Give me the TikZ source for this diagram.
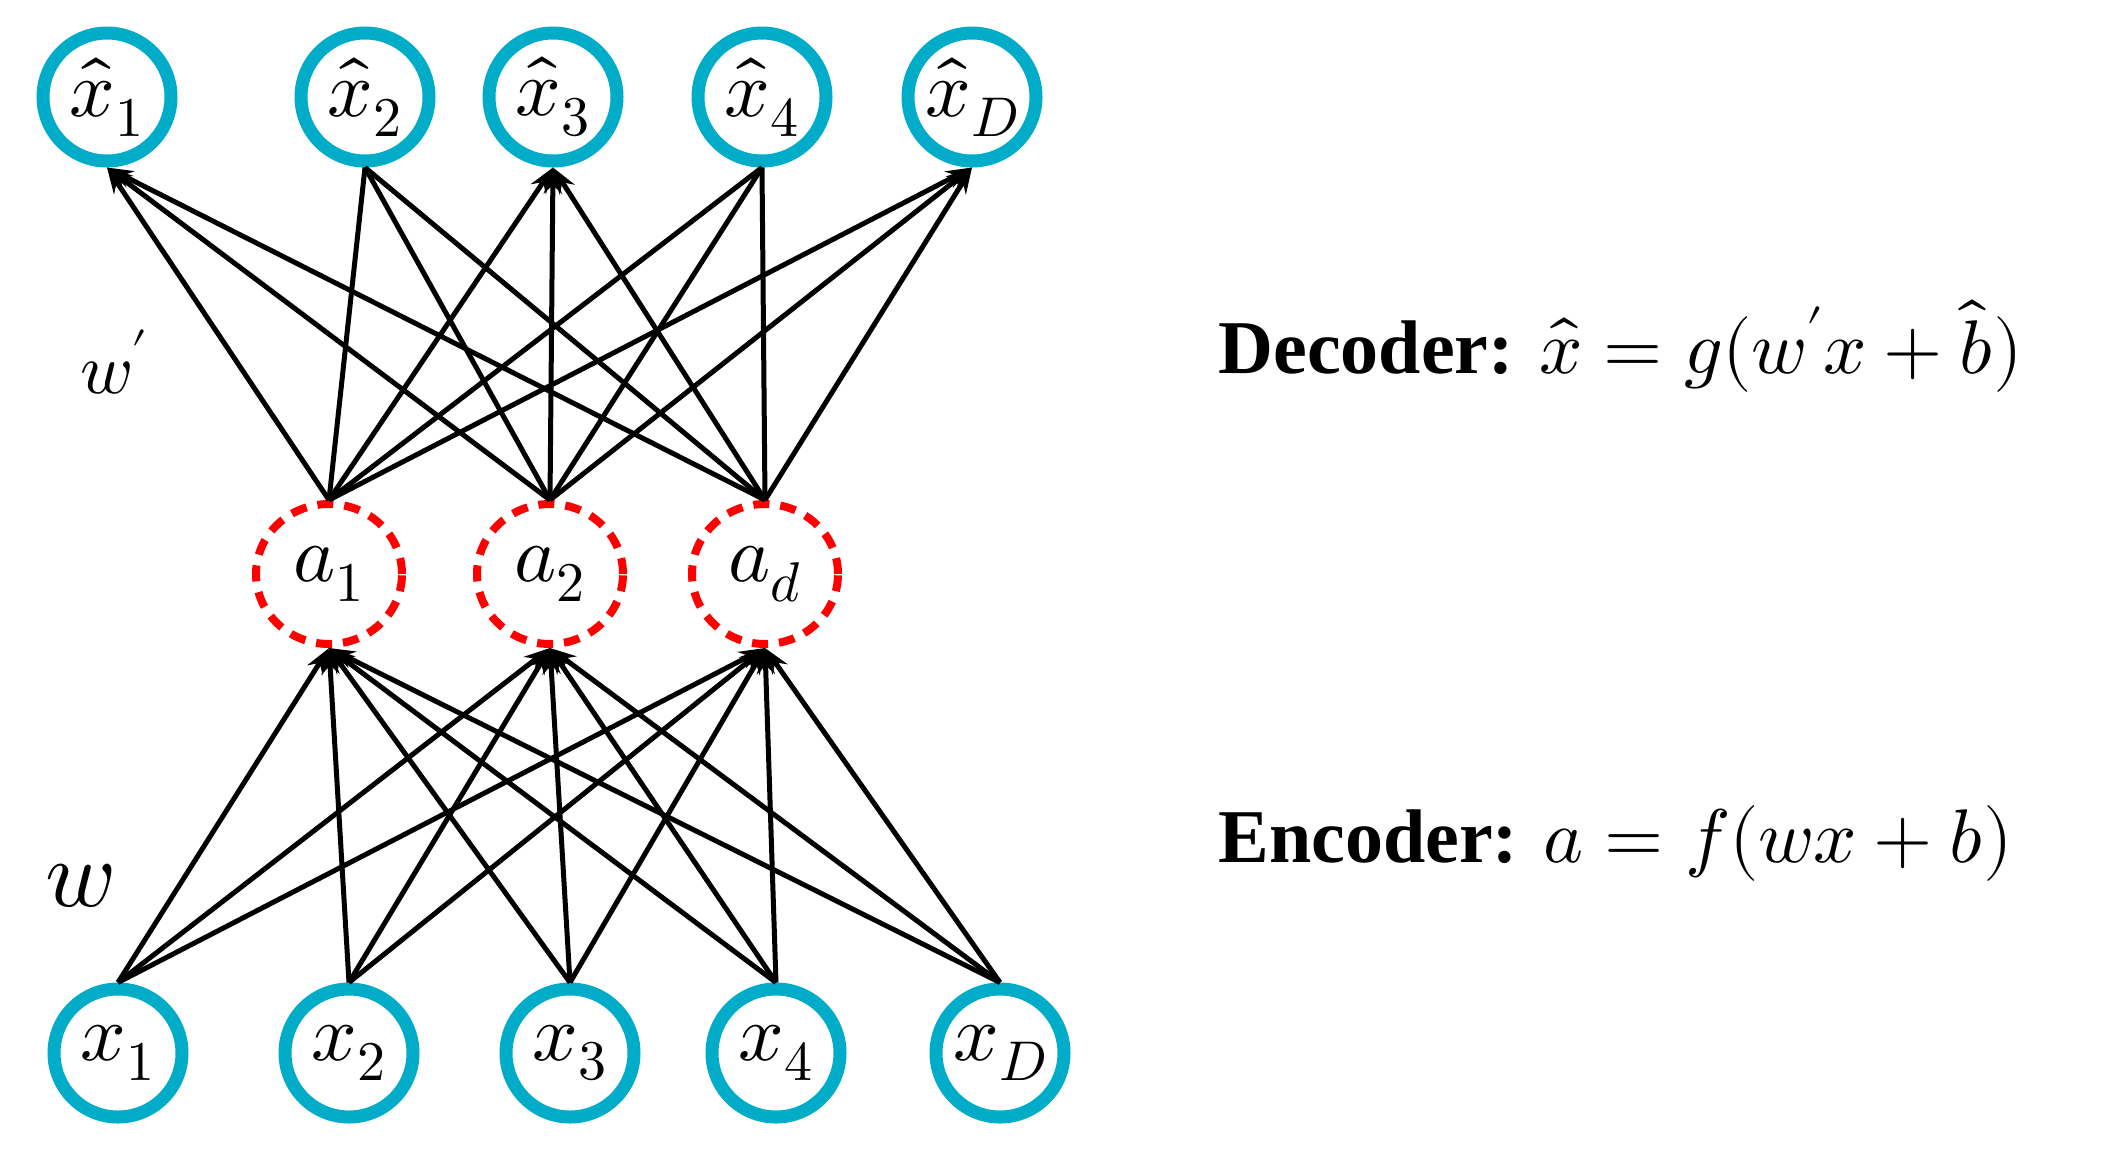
\documentclass[tikz,border=0pt]{standalone}
\usepackage{unicode-math}
\setmainfont{Liberation Serif}
\setmathfont{Latin Modern Math}
\usetikzlibrary{arrows.meta,shapes.geometric}
\begin{document}
\begin{tikzpicture}[x=1pt,y=-1pt,
  io/.style={circle,draw={rgb,255:red,0;green,172;blue,200},line width=13pt,minimum size=128pt,inner sep=0pt,font=\fontsize{80}{84}\selectfont},
  hid/.style={ellipse,draw=red,line width=8pt,dash pattern=on 16pt off 11pt,minimum width=146pt,minimum height=140pt,inner sep=0pt,font=\fontsize{80}{84}\selectfont},
  ln/.style={line width=5pt},
  ar/.style={ln,-{Stealth[length=26pt,width=18pt]}},
  lab/.style={font=\fontsize{76}{80}\selectfont,anchor=west}]
\useasboundingbox (0,0) rectangle (2104,1152);
\node[io] (o1) at (107,97) {$\hat{x}_1$};
\node[io] (o2) at (365,97) {$\hat{x}_2$};
\node[io] (o3) at (553,97) {$\hat{x}_3$};
\node[io] (o4) at (762,97) {$\hat{x}_4$};
\node[io] (o5) at (972,97) {$\hat{x}_D$};
\node[io] (i1) at (118,1053) {$x_1$};
\node[io] (i2) at (349,1053) {$x_2$};
\node[io] (i3) at (570,1053) {$x_3$};
\node[io] (i4) at (776,1053) {$x_4$};
\node[io] (i5) at (1000,1053) {$x_D$};
\node[hid] (a1) at (329,574) {$a_1$};
\node[hid] (a2) at (550,574) {$a_2$};
\node[hid] (a3) at (765,574) {$a_d$};
\foreach \a in {a1,a2,a3}{
  \draw[ar] (\a.north) -- (o1.south);
  \draw[ln] (\a.north) -- (o2.south);
  \draw[ar] (\a.north) -- (o3.south);
  \draw[ln] (\a.north) -- (o4.south);
  \draw[ar] (\a.north) -- (o5.south);
  \foreach \i in {i1,i2,i3,i4,i5}{\draw[ar] (\i.north) -- (\a.south);}
}
\node[font=\fontsize{72}{76}\selectfont] (wp) at (114,362) {$w^{\prime}$};
\node[font=\fontsize{96}{96}\selectfont] (w) at (80,886) {$w$};
\node[lab] (dec) at (1215,346) {\textbf{Decoder:} $\hat{x} = g(w^{\prime}x+\hat{b})$};
\node[lab] (enc) at (1215,843) {\textbf{Encoder:} $a = f(wx+b)$};
\end{tikzpicture}
\end{document}
